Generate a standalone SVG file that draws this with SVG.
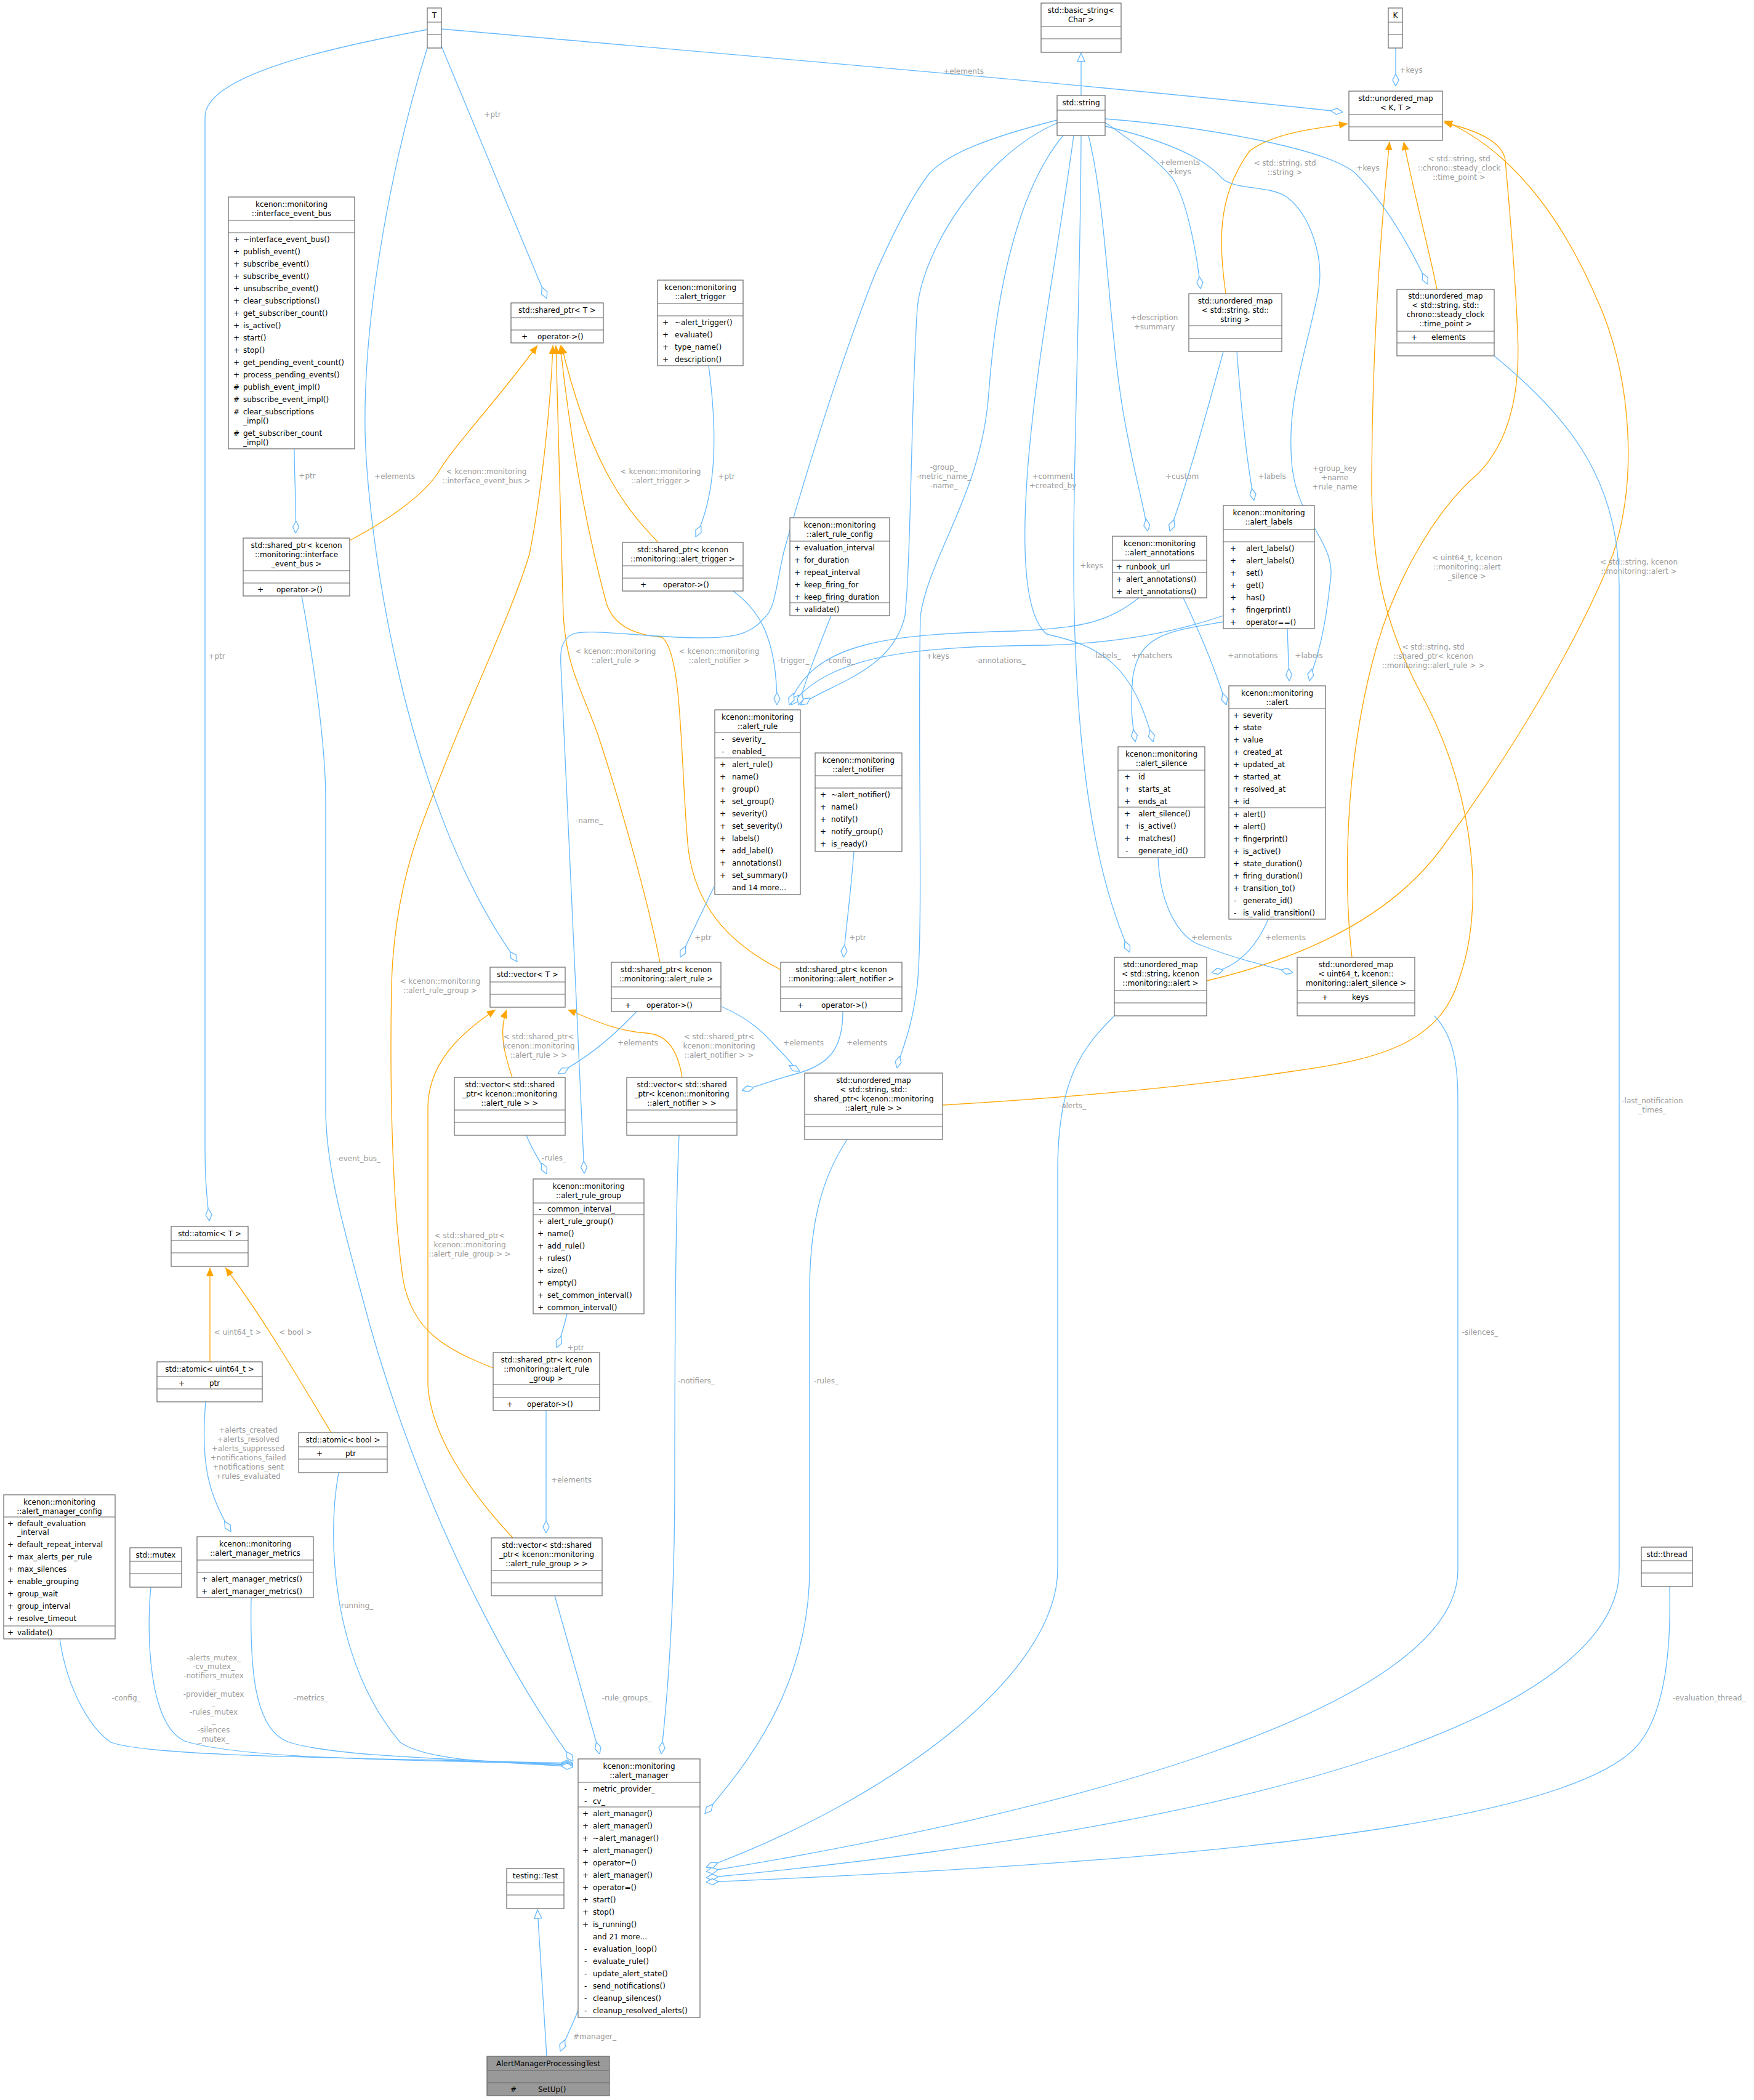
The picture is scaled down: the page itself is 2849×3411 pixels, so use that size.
<svg xmlns="http://www.w3.org/2000/svg" width="2849" height="3411" viewBox="0 0 2849 3411">
<style>
.bx{fill:#fff;stroke:#666;stroke-width:1.2}
.sp{stroke:#666;stroke-width:1.2;fill:none}
text{font-family:"DejaVu Sans","Liberation Sans",sans-serif;font-size:12px;fill:#000}
.h{text-anchor:middle}
.lb{fill:#9a9a9a;text-anchor:middle}
.e{fill:none;stroke:#63b8ff;stroke-width:1.3}
.o{fill:none;stroke:#ffa500;stroke-width:1.3}
.ed path.e{marker-end:url(#dia)}
.ed path.o{marker-end:url(#arr)}
.ed path.i{fill:none;stroke:#63b8ff;stroke-width:1.3;marker-end:url(#tri)}
</style>
<defs>
<marker id="dia" viewBox="0 0 20 12" refX="20" refY="6" markerWidth="20" markerHeight="12" markerUnits="userSpaceOnUse" orient="auto"><path d="M0,6L10,1L20,6L10,11Z" fill="#fff" stroke="#63b8ff" stroke-width="1.3"/></marker>
<marker id="arr" viewBox="0 0 14 12" refX="14" refY="6" markerWidth="14" markerHeight="12" markerUnits="userSpaceOnUse" orient="auto"><path d="M0,0L14,6L0,12Z" fill="#ffa500"/></marker>
<marker id="tri" viewBox="0 0 16 14" refX="15" refY="7" markerWidth="16" markerHeight="14" markerUnits="userSpaceOnUse" orient="auto"><path d="M1,1L15,7L1,13Z" fill="#fff" stroke="#63b8ff" stroke-width="1.3"/></marker>
</defs>
<rect width="2849" height="3411" fill="#fff"/>

<g class="ed" id="edges">
<path class="e" d="M717,47 C1200,90 1800,140 2181,182"/><text class="lb" x="1565" y="120">+elements</text>
<path class="e" d="M717,75 C760,180 840,370 888,485"/><text class="lb" x="800" y="190">+ptr</text>
<path class="e" d="M694,78 C640,250 590,500 593,700 C596,850 650,1300 840,1562"/><text class="lb" x="641" y="778">+elements</text>
<path class="e" d="M694,48 C550,75 333,120 333,190 L333,1870 C333,1930 338,1960 340,1983"/><text class="lb" x="352" y="1070">+ptr</text>
<path class="i" d="M1756,155 L1756,86"/>
<path class="e" d="M2267,78 L2267,140"/><text class="lb" x="2292" y="118">+keys</text>
<path class="e" d="M478,729 C478,780 482,830 480,866"/><text class="lb" x="499" y="777">+ptr</text>
<path class="o" d="M568,878 C640,840 690,800 710,770 C740,720 800,660 873,561"/><text class="lb" x="790" y="770">&lt; kcenon::monitoring</text><text class="lb" x="790" y="785">::interface_event_bus &gt;</text>
<path class="e" d="M1151,594 C1165,700 1165,800 1130,872"/><text class="lb" x="1180" y="778">+ptr</text>
<path class="o" d="M1069,881 C1020,830 960,760 912,561"/><text class="lb" x="1073" y="770">&lt; kcenon::monitoring</text><text class="lb" x="1073" y="785">::alert_trigger &gt;</text>
<path class="o" d="M1072,1563 C1050,1450 1000,1280 970,1190 C940,1110 920,1080 915,1000 L903,561"/><text class="lb" x="1000" y="1062">&lt; kcenon::monitoring</text><text class="lb" x="1000" y="1077">::alert_rule &gt;</text>
<path class="o" d="M1268,1575 C1180,1530 1130,1470 1118,1380 C1105,1250 1110,1060 1075,1035 C1020,1030 995,1010 985,980 C950,850 925,700 910,561"/><text class="lb" x="1168" y="1062">&lt; kcenon::monitoring</text><text class="lb" x="1168" y="1077">::alert_notifier &gt;</text>
<path class="o" d="M801,2222 C720,2190 670,2160 655,2080 C640,1980 632,1800 636,1600 C640,1450 680,1350 700,1300 C760,1140 830,1000 860,900 C880,800 895,650 898,561"/><text class="lb" x="715" y="1598">&lt; kcenon::monitoring</text><text class="lb" x="715" y="1613">::alert_rule_group &gt;</text>
<path class="o" d="M832,1750 C815,1700 812,1670 823,1640"/><text class="lb" x="875" y="1688">&lt; std::shared_ptr&lt;</text><text class="lb" x="875" y="1703">kcenon::monitoring</text><text class="lb" x="875" y="1718">::alert_rule &gt; &gt;</text>
<path class="o" d="M1108,1750 C1100,1700 1080,1680 1050,1678 C1000,1675 960,1655 922,1640"/><text class="lb" x="1168" y="1688">&lt; std::shared_ptr&lt;</text><text class="lb" x="1168" y="1703">kcenon::monitoring</text><text class="lb" x="1168" y="1718">::alert_notifier &gt; &gt;</text>
<path class="o" d="M833,2498 C760,2420 700,2330 695,2250 L695,1800 C695,1720 760,1670 805,1640"/><text class="lb" x="763" y="2011">&lt; std::shared_ptr&lt;</text><text class="lb" x="763" y="2026">kcenon::monitoring</text><text class="lb" x="763" y="2041">::alert_rule_group &gt; &gt;</text>
<path class="e" d="M1160,1440 L1105,1555"/><text class="lb" x="1142" y="1527">+ptr</text>
<path class="e" d="M1387,1383 C1382,1450 1375,1500 1370,1555"/><text class="lb" x="1393" y="1527">+ptr</text>
<path class="e" d="M1034,1643 C990,1690 950,1720 906,1744"/><text class="lb" x="1036" y="1698">+elements</text>
<path class="e" d="M1369,1643 C1369,1700 1350,1730 1290,1745 C1250,1756 1230,1765 1205,1771"/><text class="lb" x="1408" y="1698">+elements</text>
<path class="e" d="M1172,1635 C1230,1660 1250,1690 1270,1710 C1285,1725 1290,1735 1299,1740"/><text class="lb" x="1305" y="1698">+elements</text>
<path class="e" d="M855,1844 C865,1870 880,1890 888,1907"/><text class="lb" x="900" y="1885">-rules_</text>
<path class="e" d="M1717,195 C1600,225 1540,250 1510,281 C1480,320 1450,380 1421,446 C1360,600 1300,800 1274,893 C1260,950 1260,990 1240,1005 C1220,1030 1190,1036 1142,1036 C1050,1036 960,1020 930,1030 C910,1040 910,1060 911,1080 L949,1906"/><text class="lb" x="957" y="1337">-name_</text>
<path class="e" d="M921,2134 C915,2160 910,2175 904,2189"/><text class="lb" x="935" y="2193">+ptr</text>
<path class="e" d="M887,2291 L887,2490"/><text class="lb" x="928" y="2408">+elements</text>
<path class="o" d="M1991,477 C1980,400 1975,320 2030,245 C2070,215 2140,208 2189,201"/><text class="lb" x="2087" y="269">&lt; std::string, std</text><text class="lb" x="2087" y="284">::string &gt;</text>
<path class="o" d="M2334,470 C2320,400 2300,330 2280,230"/><text class="lb" x="2370" y="262">&lt; std::string, std</text><text class="lb" x="2370" y="277">::chrono::steady_clock</text><text class="lb" x="2370" y="292">::time_point &gt;</text>
<path class="o" d="M2196,1555 C2182,1430 2185,1250 2228,1080 C2260,950 2330,830 2400,770 C2450,720 2470,640 2465,540 C2460,420 2450,320 2445,260 C2440,230 2400,212 2345,199"/><text class="lb" x="2383" y="910">&lt; uint64_t, kcenon</text><text class="lb" x="2383" y="925">::monitoring::alert</text><text class="lb" x="2383" y="940">_silence &gt;</text>
<path class="o" d="M1531,1795 C1700,1785 1900,1770 2100,1740 C2250,1720 2340,1690 2370,1590 C2410,1480 2400,1300 2310,1130 C2240,1000 2230,900 2228,800 C2228,600 2240,400 2257,230"/><text class="lb" x="2328" y="1055">&lt; std::string, std</text><text class="lb" x="2328" y="1070">::shared_ptr&lt; kcenon</text><text class="lb" x="2328" y="1085">::monitoring::alert_rule &gt; &gt;</text>
<path class="o" d="M1960,1593 C2100,1560 2250,1500 2340,1380 C2450,1230 2560,1050 2620,900 C2660,780 2650,620 2600,500 C2550,380 2470,250 2345,196"/><text class="lb" x="2662" y="917">&lt; std::string, kcenon</text><text class="lb" x="2662" y="932">::monitoring::alert &gt;</text>
<path class="e" d="M2427,578 C2550,680 2630,780 2630,950 L2630,2550 C2630,2750 2200,2950 1147,3050"/><text class="lb" x="2684" y="1792">-last_notification</text><text class="lb" x="2684" y="1807">_times_</text>
<path class="e" d="M2330,1650 C2368,1690 2368,1750 2368,1800 L2368,2550 C2368,2780 1700,2950 1147,3040"/><text class="lb" x="2404" y="2168">-silences_</text>
<path class="e" d="M1810,1650 C1760,1700 1718,1750 1718,1900 L1718,2548 C1718,2720 1450,2920 1147,3033"/><text class="lb" x="1742" y="1800">-alerts_</text>
<path class="e" d="M2712,2577 C2715,2700 2700,2800 2650,2845 C2500,2980 1800,3030 1147,3057"/><text class="lb" x="2776" y="2762">-evaluation_thread_</text>
<path class="e" d="M1376,1851 C1330,1920 1315,2000 1315,2100 L1315,2548 C1315,2750 1200,2880 1145,2946"/><text class="lb" x="1342" y="2247">-rules_</text>
<path class="e" d="M1103,1844 C1098,1950 1096,2100 1096,2400 C1096,2600 1085,2750 1074,2849"/><text class="lb" x="1131" y="2247">-notifiers_</text>
<path class="e" d="M901,2592 L974,2849"/><text class="lb" x="1018" y="2762">-rule_groups_</text>
<path class="e" d="M490,968 C505,1050 529,1200 529,1300 L529,1800 C529,1900 560,2000 600,2150 C700,2500 850,2750 931,2861"/><text class="lb" x="582" y="1886">-event_bus_</text>
<path class="e" d="M97,2662 C110,2750 150,2810 180,2830 C250,2855 600,2855 931,2864"/><text class="lb" x="205" y="2762">-config_</text>
<path class="e" d="M245,2578 C238,2650 240,2800 300,2828 C400,2860 700,2858 931,2866"/>
<text class="lb" x="347" y="2697">-alerts_mutex_</text><text class="lb" x="347" y="2711">-cv_mutex_</text><text class="lb" x="347" y="2726">-notifiers_mutex</text><text class="lb" x="347" y="2741">_</text><text class="lb" x="347" y="2756">-provider_mutex</text><text class="lb" x="347" y="2770">_</text><text class="lb" x="347" y="2785">-rules_mutex</text><text class="lb" x="347" y="2799">_</text><text class="lb" x="347" y="2814">-silences</text><text class="lb" x="347" y="2829">_mutex_</text>
<path class="e" d="M408,2595 C406,2700 410,2810 470,2830 C550,2856 800,2858 931,2868"/><text class="lb" x="505" y="2762">-metrics_</text>
<path class="e" d="M550,2392 C530,2500 540,2700 650,2830 C700,2865 850,2862 931,2870"/><text class="lb" x="578" y="2612">-running_</text>
<path class="e" d="M334,2277 C325,2380 340,2430 375,2488"/><text class="lb" x="403" y="2327">+alerts_created</text><text class="lb" x="403" y="2342">+alerts_resolved</text><text class="lb" x="403" y="2357">+alerts_suppressed</text><text class="lb" x="403" y="2372">+notifications_failed</text><text class="lb" x="403" y="2387">+notifications_sent</text><text class="lb" x="403" y="2402">+rules_evaluated</text>
<path class="o" d="M341,2212 L341,2059"/><text class="lb" x="386" y="2168">&lt; uint64_t &gt;</text>
<path class="o" d="M538,2327 C480,2230 420,2130 366,2059"/><text class="lb" x="480" y="2168">&lt; bool &gt;</text>
<path class="e" d="M939,3265 C930,3290 918,3312 910,3332"/><text class="lb" x="966" y="3312">#manager_</text>
<path class="i" d="M888,3340 L873,3102"/>
<path class="e" d="M1795,199 C1840,230 1880,260 1905,290 C1930,330 1945,420 1950,469"/><text class="lb" x="1916" y="268">+elements</text><text class="lb" x="1916" y="283">+keys</text>
<path class="e" d="M1795,193 C1950,205 2150,240 2200,280 C2250,330 2290,400 2319,462"/><text class="lb" x="2222" y="277">+keys</text>
<path class="e" d="M1768,220 C1800,350 1800,550 1830,700 C1845,780 1860,830 1864,863"/><text class="lb" x="1875" y="520">+description</text><text class="lb" x="1875" y="535">+summary</text>
<path class="e" d="M1795,205 C1900,230 1960,260 1985,290 C2010,310 2060,300 2090,320 C2130,350 2150,420 2142,470 C2120,580 2090,650 2098,750 C2105,850 2175,880 2160,950 C2150,1050 2130,1090 2127,1106"/><text class="lb" x="2168" y="765">+group_key</text><text class="lb" x="2168" y="780">+name</text><text class="lb" x="2168" y="795">+rule_name</text>
<path class="e" d="M1744,220 C1720,400 1680,600 1668,780 C1660,900 1665,1000 1700,1030 C1790,1050 1840,1080 1873,1205"/><text class="lb" x="1710" y="778">+comment</text><text class="lb" x="1710" y="793">+created_by</text>
<path class="e" d="M1756,220 C1755,500 1740,800 1745,1000 C1750,1200 1770,1400 1835,1547"/><text class="lb" x="1773" y="923">+keys</text>
<path class="e" d="M1717,200 C1600,250 1500,400 1490,500 C1480,650 1480,900 1470,1000 C1450,1090 1350,1110 1300,1145"/><text class="lb" x="1533" y="763">-group_</text><text class="lb" x="1533" y="778">-metric_name_</text><text class="lb" x="1533" y="793">-name_</text>
<path class="e" d="M1727,220 C1660,300 1620,450 1606,638 C1595,800 1510,900 1495,1000 C1490,1200 1500,1500 1490,1600 C1480,1680 1462,1710 1457,1735"/><text class="lb" x="1523" y="1070">+keys</text>
<path class="e" d="M1987,1000 C1900,1030 1800,1045 1700,1048 C1500,1050 1350,1060 1285,1145"/><text class="lb" x="1798" y="1069">-labels_</text>
<path class="e" d="M1987,1010 C1900,1025 1850,1030 1840,1100 C1835,1150 1840,1180 1844,1205"/><text class="lb" x="1871" y="1069">+matchers</text>
<path class="e" d="M2091,1021 L2094,1106"/><text class="lb" x="2126" y="1069">+labels</text>
<path class="e" d="M1922,971 C1950,1030 1975,1090 1992,1145"/><text class="lb" x="2035" y="1069">+annotations</text>
<path class="e" d="M1850,971 C1800,1010 1760,1020 1650,1025 C1450,1030 1320,1040 1282,1145"/><text class="lb" x="1625" y="1077">-annotations_</text>
<path class="e" d="M1987,571 C1960,670 1930,780 1900,863"/><text class="lb" x="1920" y="778">+custom</text>
<path class="e" d="M2009,571 C2015,650 2025,750 2037,813"/><text class="lb" x="2066" y="778">+labels</text>
<path class="e" d="M1191,960 C1230,990 1262,1030 1262,1145"/><text class="lb" x="1289" y="1077">-trigger_</text>
<path class="e" d="M1350,1000 C1330,1050 1310,1100 1297,1145"/><text class="lb" x="1365" y="1077">-config_</text>
<path class="e" d="M1881,1393 C1885,1480 1920,1525 1950,1535 C2000,1555 2060,1570 2100,1580"/><text class="lb" x="1968" y="1527">+elements</text>
<path class="e" d="M2060,1493 C2040,1540 2010,1570 1968,1580"/><text class="lb" x="2088" y="1527">+elements</text>
</g>

<g id="n_T"><rect class="bx" x="694" y="13" width="23" height="65"/><path class="sp" d="M694,36H717M694,56H717"/><text class="h" x="705.5" y="29">T</text></g>
<g id="n_K"><rect class="bx" x="2255" y="13" width="23" height="65"/><path class="sp" d="M2255,36H2278M2255,56H2278"/><text class="h" x="2266.5" y="29">K</text></g>
<g id="n_basic_string"><rect class="bx" x="1691" y="5" width="130" height="80"/><path class="sp" d="M1691,43H1821M1691,63H1821"/><text class="h" x="1756" y="21">std::basic_string&lt;</text><text class="h" x="1756" y="36">Char &gt;</text></g>
<g id="n_string"><rect class="bx" x="1717" y="155" width="78" height="65"/><path class="sp" d="M1717,179H1795M1717,199H1795"/><text class="h" x="1756" y="171">std::string</text></g>
<g id="n_umap_KT"><rect class="bx" x="2191" y="148" width="152" height="80"/><path class="sp" d="M2191,186H2343M2191,206H2343"/><text class="h" x="2267" y="164">std::unordered_map</text><text class="h" x="2267" y="179">&lt; K, T &gt;</text></g>

<g id="n_interface_event_bus"><rect class="bx" x="371" y="320" width="205" height="409"/><path class="sp" d="M371,358H576M371,378H576"/><text class="h" x="473.5" y="336">kcenon::monitoring</text><text class="h" x="473.5" y="351">::interface_event_bus</text>
<text x="379" y="393">+</text><text x="395" y="393">~interface_event_bus()</text>
<text x="379" y="413">+</text><text x="395" y="413">publish_event()</text>
<text x="379" y="433">+</text><text x="395" y="433">subscribe_event()</text>
<text x="379" y="453">+</text><text x="395" y="453">subscribe_event()</text>
<text x="379" y="473">+</text><text x="395" y="473">unsubscribe_event()</text>
<text x="379" y="493">+</text><text x="395" y="493">clear_subscriptions()</text>
<text x="379" y="513">+</text><text x="395" y="513">get_subscriber_count()</text>
<text x="379" y="533">+</text><text x="395" y="533">is_active()</text>
<text x="379" y="553">+</text><text x="395" y="553">start()</text>
<text x="379" y="573">+</text><text x="395" y="573">stop()</text>
<text x="379" y="593">+</text><text x="395" y="593">get_pending_event_count()</text>
<text x="379" y="613">+</text><text x="395" y="613">process_pending_events()</text>
<text x="379" y="633">#</text><text x="395" y="633">publish_event_impl()</text>
<text x="379" y="653">#</text><text x="395" y="653">subscribe_event_impl()</text>
<text x="379" y="673">#</text><text x="395" y="673">clear_subscriptions</text><text x="395" y="688">_impl()</text>
<text x="379" y="708">#</text><text x="395" y="708">get_subscriber_count</text><text x="395" y="723">_impl()</text></g>

<g id="n_shared_ptr_T"><rect class="bx" x="830" y="492" width="150" height="65"/><path class="sp" d="M830,516H980M830,536H980"/><text class="h" x="905" y="508">std::shared_ptr&lt; T &gt;</text><text x="847" y="551">+</text><text x="873" y="551">operator-&gt;()</text></g>
<g id="n_shared_ptr_ieb"><rect class="bx" x="395" y="874" width="173" height="94"/><path class="sp" d="M395,927H568M395,947H568"/><text class="h" x="481.5" y="890">std::shared_ptr&lt; kcenon</text><text class="h" x="481.5" y="905">::monitoring::interface</text><text class="h" x="481.5" y="920">_event_bus &gt;</text><text x="418" y="962">+</text><text x="449" y="962">operator-&gt;()</text></g>

<g id="n_alert_trigger"><rect class="bx" x="1068" y="455" width="139" height="139"/><path class="sp" d="M1068,493H1207M1068,513H1207"/><text class="h" x="1137.5" y="471">kcenon::monitoring</text><text class="h" x="1137.5" y="486">::alert_trigger</text>
<text x="1076" y="528">+</text><text x="1096" y="528">~alert_trigger()</text><text x="1076" y="548">+</text><text x="1096" y="548">evaluate()</text><text x="1076" y="568">+</text><text x="1096" y="568">type_name()</text><text x="1076" y="588">+</text><text x="1096" y="588">description()</text></g>
<g id="n_shared_ptr_trigger"><rect class="bx" x="1011" y="881" width="196" height="79"/><path class="sp" d="M1011,919H1207M1011,939H1207"/><text class="h" x="1109" y="897">std::shared_ptr&lt; kcenon</text><text class="h" x="1109" y="912">::monitoring::alert_trigger &gt;</text><text x="1040" y="954">+</text><text x="1077" y="954">operator-&gt;()</text></g>

<g id="n_alert_rule_config"><rect class="bx" x="1283" y="841" width="162" height="159"/><path class="sp" d="M1283,879H1445M1283,979H1445"/><text class="h" x="1364" y="857">kcenon::monitoring</text><text class="h" x="1364" y="872">::alert_rule_config</text>
<text x="1290" y="894">+</text><text x="1306" y="894">evaluation_interval</text><text x="1290" y="914">+</text><text x="1306" y="914">for_duration</text><text x="1290" y="934">+</text><text x="1306" y="934">repeat_interval</text><text x="1290" y="954">+</text><text x="1306" y="954">keep_firing_for</text><text x="1290" y="974">+</text><text x="1306" y="974">keep_firing_duration</text><text x="1290" y="994">+</text><text x="1306" y="994">validate()</text></g>

<g id="n_umap_ss"><rect class="bx" x="1931" y="477" width="151" height="94"/><path class="sp" d="M1931,529H2082M1931,550H2082"/><text class="h" x="2006.5" y="493">std::unordered_map</text><text class="h" x="2006.5" y="508">&lt; std::string, std::</text><text class="h" x="2006.5" y="523">string &gt;</text></g>
<g id="n_umap_tp"><rect class="bx" x="2269" y="470" width="158" height="108"/><path class="sp" d="M2269,538H2427M2269,557H2427"/><text class="h" x="2348" y="485">std::unordered_map</text><text class="h" x="2348" y="500">&lt; std::string, std::</text><text class="h" x="2348" y="515">chrono::steady_clock</text><text class="h" x="2348" y="530">::time_point &gt;</text><text x="2292" y="552">+</text><text x="2325" y="552">elements</text></g>

<g id="n_alert_annotations"><rect class="bx" x="1807" y="871" width="153" height="100"/><path class="sp" d="M1807,910H1960M1807,930H1960"/><text class="h" x="1883.5" y="887">kcenon::monitoring</text><text class="h" x="1883.5" y="902">::alert_annotations</text>
<text x="1813" y="925">+</text><text x="1829" y="925">runbook_url</text><text x="1813" y="945">+</text><text x="1829" y="945">alert_annotations()</text><text x="1813" y="965">+</text><text x="1829" y="965">alert_annotations()</text></g>

<g id="n_alert_labels"><rect class="bx" x="1987" y="821" width="148" height="200"/><path class="sp" d="M1987,860H2135M1987,880H2135"/><text class="h" x="2061" y="837">kcenon::monitoring</text><text class="h" x="2061" y="852">::alert_labels</text>
<text x="1998" y="895">+</text><text x="2024" y="895">alert_labels()</text><text x="1998" y="915">+</text><text x="2024" y="915">alert_labels()</text><text x="1998" y="935">+</text><text x="2024" y="935">set()</text><text x="1998" y="955">+</text><text x="2024" y="955">get()</text><text x="1998" y="975">+</text><text x="2024" y="975">has()</text><text x="1998" y="995">+</text><text x="2024" y="995">fingerprint()</text><text x="1998" y="1015">+</text><text x="2024" y="1015">operator==()</text></g>

<g id="n_alert"><rect class="bx" x="1996" y="1114" width="157" height="379"/><path class="sp" d="M1996,1151H2153M1996,1312H2153"/><text class="h" x="2074.5" y="1130">kcenon::monitoring</text><text class="h" x="2074.5" y="1145">::alert</text>
<text x="2003" y="1166">+</text><text x="2019" y="1166">severity</text><text x="2003" y="1186">+</text><text x="2019" y="1186">state</text><text x="2003" y="1206">+</text><text x="2019" y="1206">value</text><text x="2003" y="1226">+</text><text x="2019" y="1226">created_at</text><text x="2003" y="1246">+</text><text x="2019" y="1246">updated_at</text><text x="2003" y="1266">+</text><text x="2019" y="1266">started_at</text><text x="2003" y="1286">+</text><text x="2019" y="1286">resolved_at</text><text x="2003" y="1306">+</text><text x="2019" y="1306">id</text>
<text x="2003" y="1327">+</text><text x="2019" y="1327">alert()</text><text x="2003" y="1347">+</text><text x="2019" y="1347">alert()</text><text x="2003" y="1367">+</text><text x="2019" y="1367">fingerprint()</text><text x="2003" y="1387">+</text><text x="2019" y="1387">is_active()</text><text x="2003" y="1407">+</text><text x="2019" y="1407">state_duration()</text><text x="2003" y="1427">+</text><text x="2019" y="1427">firing_duration()</text><text x="2003" y="1447">+</text><text x="2019" y="1447">transition_to()</text><text x="2004" y="1467">-</text><text x="2019" y="1467">generate_id()</text><text x="2004" y="1487">-</text><text x="2019" y="1487">is_valid_transition()</text></g>

<g id="n_alert_silence"><rect class="bx" x="1816" y="1213" width="141" height="180"/><path class="sp" d="M1816,1251H1957M1816,1311H1957"/><text class="h" x="1886.5" y="1229">kcenon::monitoring</text><text class="h" x="1886.5" y="1244">::alert_silence</text>
<text x="1826" y="1266">+</text><text x="1849" y="1266">id</text><text x="1826" y="1286">+</text><text x="1849" y="1286">starts_at</text><text x="1826" y="1306">+</text><text x="1849" y="1306">ends_at</text>
<text x="1826" y="1326">+</text><text x="1849" y="1326">alert_silence()</text><text x="1826" y="1346">+</text><text x="1849" y="1346">is_active()</text><text x="1826" y="1366">+</text><text x="1849" y="1366">matches()</text><text x="1828" y="1386">-</text><text x="1849" y="1386">generate_id()</text></g>

<g id="n_alert_rule"><rect class="bx" x="1161" y="1153" width="139" height="300"/><path class="sp" d="M1161,1190H1300M1161,1231H1300"/><text class="h" x="1230.5" y="1169">kcenon::monitoring</text><text class="h" x="1230.5" y="1184">::alert_rule</text>
<text x="1172" y="1205">-</text><text x="1189" y="1205">severity_</text><text x="1172" y="1225">-</text><text x="1189" y="1225">enabled_</text>
<text x="1169" y="1246">+</text><text x="1189" y="1246">alert_rule()</text><text x="1169" y="1266">+</text><text x="1189" y="1266">name()</text><text x="1169" y="1286">+</text><text x="1189" y="1286">group()</text><text x="1169" y="1306">+</text><text x="1189" y="1306">set_group()</text><text x="1169" y="1326">+</text><text x="1189" y="1326">severity()</text><text x="1169" y="1346">+</text><text x="1189" y="1346">set_severity()</text><text x="1169" y="1366">+</text><text x="1189" y="1366">labels()</text><text x="1169" y="1386">+</text><text x="1189" y="1386">add_label()</text><text x="1169" y="1406">+</text><text x="1189" y="1406">annotations()</text><text x="1169" y="1426">+</text><text x="1189" y="1426">set_summary()</text><text x="1189" y="1446">and 14 more...</text></g>

<g id="n_alert_notifier"><rect class="bx" x="1324" y="1223" width="141" height="160"/><path class="sp" d="M1324,1260H1465M1324,1280H1465"/><text class="h" x="1394.5" y="1239">kcenon::monitoring</text><text class="h" x="1394.5" y="1254">::alert_notifier</text>
<text x="1332" y="1295">+</text><text x="1350" y="1295">~alert_notifier()</text><text x="1332" y="1315">+</text><text x="1350" y="1315">name()</text><text x="1332" y="1335">+</text><text x="1350" y="1335">notify()</text><text x="1332" y="1355">+</text><text x="1350" y="1355">notify_group()</text><text x="1332" y="1375">+</text><text x="1350" y="1375">is_ready()</text></g>

<g id="n_vector_T"><rect class="bx" x="796" y="1571" width="122" height="65"/><path class="sp" d="M796,1595H918M796,1615H918"/><text class="h" x="857" y="1587">std::vector&lt; T &gt;</text></g>
<g id="n_shared_ptr_rule"><rect class="bx" x="993" y="1563" width="178" height="80"/><path class="sp" d="M993,1603H1171M993,1622H1171"/><text class="h" x="1082" y="1579">std::shared_ptr&lt; kcenon</text><text class="h" x="1082" y="1594">::monitoring::alert_rule &gt;</text><text x="1015" y="1637">+</text><text x="1050" y="1637">operator-&gt;()</text></g>
<g id="n_shared_ptr_notifier"><rect class="bx" x="1268" y="1563" width="197" height="80"/><path class="sp" d="M1268,1603H1465M1268,1622H1465"/><text class="h" x="1366.5" y="1579">std::shared_ptr&lt; kcenon</text><text class="h" x="1366.5" y="1594">::monitoring::alert_notifier &gt;</text><text x="1295" y="1637">+</text><text x="1334" y="1637">operator-&gt;()</text></g>
<g id="n_umap_alert"><rect class="bx" x="1810" y="1555" width="150" height="95"/><path class="sp" d="M1810,1609H1960M1810,1629H1960"/><text class="h" x="1885" y="1571">std::unordered_map</text><text class="h" x="1885" y="1586">&lt; std::string, kcenon</text><text class="h" x="1885" y="1601">::monitoring::alert &gt;</text></g>
<g id="n_umap_silence"><rect class="bx" x="2107" y="1555" width="191" height="95"/><path class="sp" d="M2107,1609H2298M2107,1629H2298"/><text class="h" x="2202.5" y="1571">std::unordered_map</text><text class="h" x="2202.5" y="1586">&lt; uint64_t, kcenon::</text><text class="h" x="2202.5" y="1601">monitoring::alert_silence &gt;</text><text x="2147" y="1624">+</text><text x="2196" y="1624">keys</text></g>
<g id="n_vector_sp_rule"><rect class="bx" x="738" y="1750" width="180" height="94"/><path class="sp" d="M738,1803H918M738,1823H918"/><text class="h" x="828" y="1766">std::vector&lt; std::shared</text><text class="h" x="828" y="1781">_ptr&lt; kcenon::monitoring</text><text class="h" x="828" y="1796">::alert_rule &gt; &gt;</text></g>
<g id="n_vector_sp_notifier"><rect class="bx" x="1018" y="1750" width="179" height="94"/><path class="sp" d="M1018,1803H1197M1018,1823H1197"/><text class="h" x="1107.5" y="1766">std::vector&lt; std::shared</text><text class="h" x="1107.5" y="1781">_ptr&lt; kcenon::monitoring</text><text class="h" x="1107.5" y="1796">::alert_notifier &gt; &gt;</text></g>
<g id="n_umap_rule"><rect class="bx" x="1307" y="1743" width="224" height="108"/><path class="sp" d="M1307,1810H1531M1307,1830H1531"/><text class="h" x="1419" y="1759">std::unordered_map</text><text class="h" x="1419" y="1774">&lt; std::string, std::</text><text class="h" x="1419" y="1789">shared_ptr&lt; kcenon::monitoring</text><text class="h" x="1419" y="1804">::alert_rule &gt; &gt;</text></g>

<g id="n_alert_rule_group"><rect class="bx" x="866" y="1915" width="180" height="219"/><path class="sp" d="M866,1954H1046M866,1973H1046"/><text class="h" x="956" y="1931">kcenon::monitoring</text><text class="h" x="956" y="1946">::alert_rule_group</text>
<text x="875" y="1968">-</text><text x="889" y="1968">common_interval_</text>
<text x="873" y="1988">+</text><text x="889" y="1988">alert_rule_group()</text><text x="873" y="2008">+</text><text x="889" y="2008">name()</text><text x="873" y="2028">+</text><text x="889" y="2028">add_rule()</text><text x="873" y="2048">+</text><text x="889" y="2048">rules()</text><text x="873" y="2068">+</text><text x="889" y="2068">size()</text><text x="873" y="2088">+</text><text x="889" y="2088">empty()</text><text x="873" y="2108">+</text><text x="889" y="2108">set_common_interval()</text><text x="873" y="2128">+</text><text x="889" y="2128">common_interval()</text></g>
<g id="n_shared_ptr_rule_group"><rect class="bx" x="801" y="2197" width="173" height="94"/><path class="sp" d="M801,2249H974M801,2270H974"/><text class="h" x="887.5" y="2213">std::shared_ptr&lt; kcenon</text><text class="h" x="887.5" y="2228">::monitoring::alert_rule</text><text class="h" x="887.5" y="2243">_group &gt;</text><text x="823" y="2285">+</text><text x="856" y="2285">operator-&gt;()</text></g>
<g id="n_vector_sp_rule_group"><rect class="bx" x="798" y="2498" width="180" height="94"/><path class="sp" d="M798,2551H978M798,2571H978"/><text class="h" x="888" y="2514">std::vector&lt; std::shared</text><text class="h" x="888" y="2529">_ptr&lt; kcenon::monitoring</text><text class="h" x="888" y="2544">::alert_rule_group &gt; &gt;</text></g>

<g id="n_atomic_T"><rect class="bx" x="278" y="1992" width="125" height="65"/><path class="sp" d="M278,2015H403M278,2035H403"/><text class="h" x="340.5" y="2008">std::atomic&lt; T &gt;</text></g>
<g id="n_atomic_u64"><rect class="bx" x="255" y="2212" width="171" height="65"/><path class="sp" d="M255,2236H426M255,2256H426"/><text class="h" x="340.5" y="2228">std::atomic&lt; uint64_t &gt;</text><text x="290" y="2251">+</text><text x="340" y="2251">ptr</text></g>
<g id="n_atomic_bool"><rect class="bx" x="485" y="2327" width="144" height="65"/><path class="sp" d="M485,2350H629M485,2370H629"/><text class="h" x="557" y="2343">std::atomic&lt; bool &gt;</text><text x="514" y="2365">+</text><text x="561" y="2365">ptr</text></g>

<g id="n_alert_manager_config"><rect class="bx" x="6" y="2428" width="181" height="234"/><path class="sp" d="M6,2464H187M6,2641H187"/><text class="h" x="96.5" y="2444">kcenon::monitoring</text><text class="h" x="96.5" y="2459">::alert_manager_config</text>
<text x="12" y="2479">+</text><text x="28" y="2479">default_evaluation</text><text x="28" y="2493">_interval</text>
<text x="12" y="2513">+</text><text x="28" y="2513">default_repeat_interval</text><text x="12" y="2533">+</text><text x="28" y="2533">max_alerts_per_rule</text><text x="12" y="2553">+</text><text x="28" y="2553">max_silences</text><text x="12" y="2573">+</text><text x="28" y="2573">enable_grouping</text><text x="12" y="2593">+</text><text x="28" y="2593">group_wait</text><text x="12" y="2613">+</text><text x="28" y="2613">group_interval</text><text x="12" y="2633">+</text><text x="28" y="2633">resolve_timeout</text><text x="12" y="2656">+</text><text x="28" y="2656">validate()</text></g>
<g id="n_mutex"><rect class="bx" x="211" y="2514" width="84" height="64"/><path class="sp" d="M211,2536H295M211,2556H295"/><text class="h" x="253" y="2530">std::mutex</text></g>
<g id="n_metrics"><rect class="bx" x="320" y="2496" width="189" height="99"/><path class="sp" d="M320,2534H509M320,2554H509"/><text class="h" x="414.5" y="2512">kcenon::monitoring</text><text class="h" x="414.5" y="2527">::alert_manager_metrics</text><text x="327" y="2569">+</text><text x="343" y="2569">alert_manager_metrics()</text><text x="327" y="2589">+</text><text x="343" y="2589">alert_manager_metrics()</text></g>
<g id="n_thread"><rect class="bx" x="2666" y="2513" width="83" height="64"/><path class="sp" d="M2666,2535H2749M2666,2555H2749"/><text class="h" x="2707.5" y="2529">std::thread</text></g>

<g id="n_alert_manager"><rect class="bx" x="939" y="2857" width="198" height="420"/><path class="sp" d="M939,2895H1137M939,2935H1137"/><text class="h" x="1038" y="2873">kcenon::monitoring</text><text class="h" x="1038" y="2888">::alert_manager</text>
<text x="949" y="2910">-</text><text x="963" y="2910">metric_provider_</text><text x="949" y="2930">-</text><text x="963" y="2930">cv_</text>
<text x="946" y="2950">+</text><text x="963" y="2950">alert_manager()</text><text x="946" y="2970">+</text><text x="963" y="2970">alert_manager()</text><text x="946" y="2990">+</text><text x="963" y="2990">~alert_manager()</text><text x="946" y="3010">+</text><text x="963" y="3010">alert_manager()</text><text x="946" y="3030">+</text><text x="963" y="3030">operator=()</text><text x="946" y="3050">+</text><text x="963" y="3050">alert_manager()</text><text x="946" y="3070">+</text><text x="963" y="3070">operator=()</text><text x="946" y="3090">+</text><text x="963" y="3090">start()</text><text x="946" y="3110">+</text><text x="963" y="3110">stop()</text><text x="946" y="3130">+</text><text x="963" y="3130">is_running()</text><text x="963" y="3150">and 21 more...</text>
<text x="949" y="3170">-</text><text x="963" y="3170">evaluation_loop()</text><text x="949" y="3190">-</text><text x="963" y="3190">evaluate_rule()</text><text x="949" y="3210">-</text><text x="963" y="3210">update_alert_state()</text><text x="949" y="3230">-</text><text x="963" y="3230">send_notifications()</text><text x="949" y="3250">-</text><text x="963" y="3250">cleanup_silences()</text><text x="949" y="3270">-</text><text x="963" y="3270">cleanup_resolved_alerts()</text></g>
<g id="n_testing_Test"><rect class="bx" x="823" y="3035" width="93" height="65"/><path class="sp" d="M823,3058H916M823,3078H916"/><text class="h" x="869.5" y="3051">testing::Test</text></g>
<g id="n_AlertManagerProcessingTest"><rect x="791" y="3340" width="199" height="64" fill="#999" stroke="#666" stroke-width="1.2"/><path class="sp" d="M791,3363H990M791,3383H990"/><text class="h" x="890.5" y="3356">AlertManagerProcessingTest</text><text x="829" y="3398">#</text><text x="874" y="3398">SetUp()</text></g>
</svg>
